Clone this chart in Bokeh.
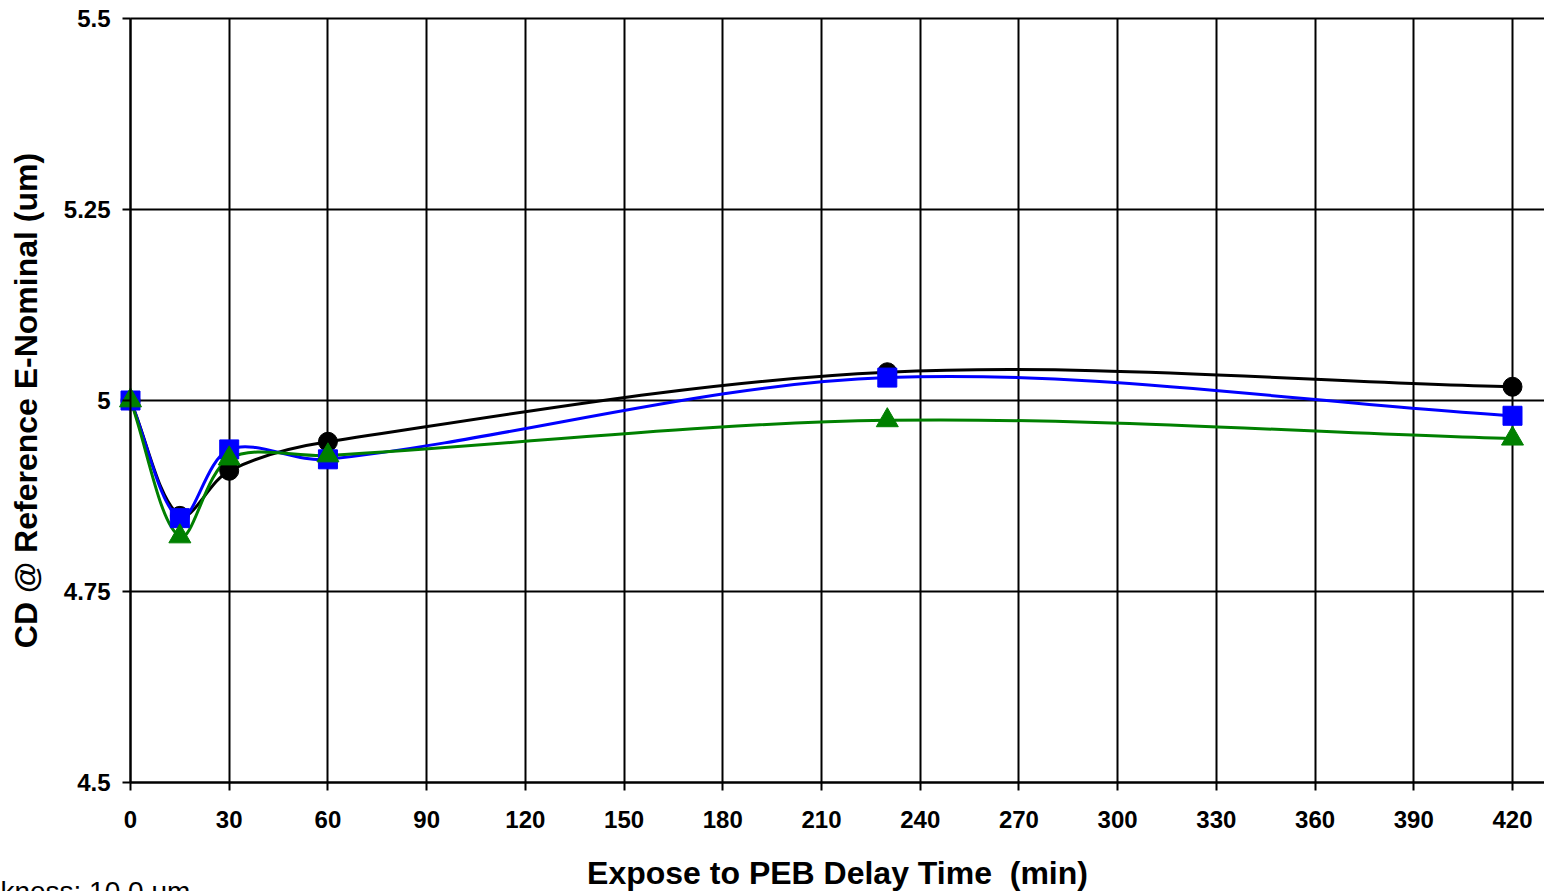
from bokeh.plotting import figure
from bokeh.models import FixedTicker, Range1d, Label
from bokeh.embed import file_html
from bokeh.resources import INLINE
import math

# ---- data ----
delay_min = [0, 15, 30, 60, 230, 420]
series_black = [5.000, 4.849, 4.908, 4.946, 5.037, 5.018]
series_blue = [5.000, 4.846, 4.936, 4.923, 5.030, 4.980]
series_green = [5.000, 4.822, 4.924, 4.928, 4.974, 4.950]
x_ticks = list(range(0, 421, 30))
y_ticks = [4.5, 4.75, 5.0, 5.25, 5.5]
y_tick_labels = ["4.5", "4.75", "5", "5.25", "5.5"]
footnote = "Thickness: 10.0 um"

FONT = "Liberation Sans"
W, H = 1544, 891
LEFT_PX, RIGHT_PX_420 = 130.0, 1512.0       # screen position of x=0 and x=420
TOP_PX, BOTTOM_PX = 18.0, 782.0              # screen position of y=5.5 and y=4.5
PX_PER_X = (RIGHT_PX_420 - LEFT_PX) / 420.0
PX_PER_Y = (BOTTOM_PX - TOP_PX) / 1.0

X_START = -LEFT_PX / PX_PER_X
X_END = (W - LEFT_PX) / PX_PER_X
Y_END = 5.5 + TOP_PX / PX_PER_Y
Y_START = 4.5 - (H - BOTTOM_PX) / PX_PER_Y

p = figure(width=W, height=H, output_backend="svg", toolbar_location=None,
           x_range=Range1d(X_START, X_END), y_range=Range1d(Y_START, Y_END),
           min_border=0, min_border_left=0, min_border_right=0,
           min_border_top=0, min_border_bottom=0)
p.outline_line_color = None
p.background_fill_color = "white"
p.border_fill_color = "white"

for ax in (p.xaxis[0], p.yaxis[0]):
    ax.major_label_text_font = FONT
    ax.major_label_text_font_style = "bold"
    ax.major_label_text_font_size = "24px"
    ax.major_label_text_color = "black"
    ax.axis_label_text_font = FONT
    ax.axis_label_text_font_style = "bold"
    ax.axis_label_text_color = "black"
    ax.axis_line_color = "black"
    ax.axis_line_width = 2
    ax.major_tick_line_color = "black"
    ax.major_tick_line_width = 2
    ax.major_tick_in = 0
    ax.major_tick_out = 8
    ax.minor_tick_line_color = None

p.xaxis.fixed_location = 4.5
p.yaxis.fixed_location = 0
p.xaxis.bounds = (0, X_END)
p.yaxis.bounds = (4.5, 5.5)
p.xaxis.ticker = FixedTicker(ticks=x_ticks)
p.yaxis.ticker = FixedTicker(ticks=y_ticks)
p.yaxis.major_label_overrides = {t: s for t, s in zip(y_ticks, y_tick_labels)}
p.xaxis.axis_label = "Expose to PEB Delay Time\u00a0 (min)"
p.yaxis.axis_label = "CD @ Reference E-Nominal (um)"
p.xaxis.axis_label_text_font_size = "32px"
p.yaxis.axis_label_text_font_size = "32px"
p.xaxis.major_label_standoff = 20
p.yaxis.major_label_standoff = 12
p.xaxis.axis_label_standoff = 24
p.yaxis.axis_label_standoff = 17

p.xgrid.ticker = FixedTicker(ticks=x_ticks)
p.ygrid.ticker = FixedTicker(ticks=y_ticks)
p.xgrid.cross_bounds = (4.5, 5.5)
p.ygrid.cross_bounds = (0, X_END)
for g in (p.xgrid[0], p.ygrid[0]):
    g.grid_line_color = "black"
    g.grid_line_width = 2
    g.grid_line_alpha = 1.0


def smooth_segments(xs, ys):
    n = len(xs)
    sx = [x * PX_PER_X for x in xs]
    sy = [y * PX_PER_Y for y in ys]

    def dist(i, j):
        return math.hypot(sx[j] - sx[i], sy[j] - sy[i])

    tin, tout = [], []
    for i in range(n):
        ip = max(i - 1, 0)
        inx = min(i + 1, n - 1)
        dp = dist(ip, i)
        dn = dist(i, inx)
        tot = dp + dn if dp + dn > 0 else 1.0
        tx = xs[inx] - xs[ip]
        ty = ys[inx] - ys[ip]
        tin.append((tx * dp / tot / 3.0, ty * dp / tot / 3.0))
        tout.append((tx * dn / tot / 3.0, ty * dn / tot / 3.0))
    out = dict(x0=[], y0=[], x1=[], y1=[], cx0=[], cy0=[], cx1=[], cy1=[])
    for i in range(n - 1):
        out["x0"].append(xs[i]); out["y0"].append(ys[i])
        out["x1"].append(xs[i + 1]); out["y1"].append(ys[i + 1])
        out["cx0"].append(xs[i] + tout[i][0]); out["cy0"].append(ys[i] + tout[i][1])
        out["cx1"].append(xs[i + 1] - tin[i + 1][0]); out["cy1"].append(ys[i + 1] - tin[i + 1][1])
    return out


for ys, color in ((series_black, "black"), (series_blue, "#0000FF"), (series_green, "#008000")):
    s = smooth_segments(delay_min, ys)
    p.bezier(x0=s["x0"], y0=s["y0"], x1=s["x1"], y1=s["y1"],
             cx0=s["cx0"], cy0=s["cy0"], cx1=s["cx1"], cy1=s["cy1"],
             line_color=color, line_width=3)

p.scatter(delay_min, series_black, marker="circle", size=19, fill_color="black", line_color="black")
p.scatter(delay_min, series_blue, marker="square", size=19, fill_color="#0000FF", line_color="#0000FF")
p.scatter(delay_min, series_green, marker="triangle", size=22, fill_color="#008000", line_color="#008000")

# footnote, partly outside the picture as in the original
p.add_layout(Label(x=(-53 - LEFT_PX) / PX_PER_X, y=4.5 - (891 - BOTTOM_PX) / PX_PER_Y,
                   x_units="data", y_units="data",
                   text=footnote, text_font=FONT, text_font_size="28px",
                   text_color="black", text_baseline="alphabetic", text_align="left"))

open("out.html", "w").write(file_html(p, INLINE))
